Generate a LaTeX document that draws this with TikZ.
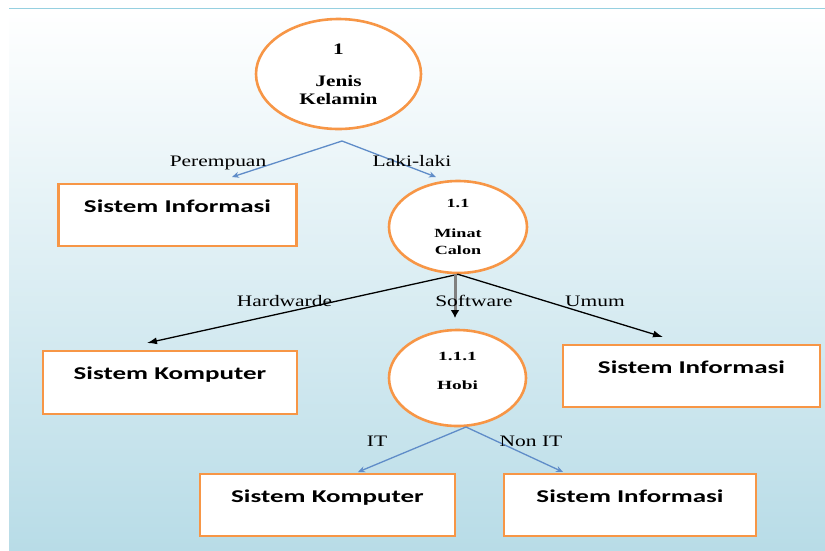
\documentclass[tikz,border=0pt]{standalone}
\usepackage{fontspec}
\setmainfont{Liberation Serif}
\newfontfamily\carl{Carlito}
\usepackage{graphicx}
\usetikzlibrary{shapes.geometric,arrows.meta}
\definecolor{orng}{RGB}{247,150,70}
\definecolor{bgblue}{RGB}{184,220,231}
\definecolor{lineblue}{RGB}{95,140,200}
\definecolor{topline}{RGB}{150,208,224}
\newcommand\hs[2]{\scalebox{#1}[1]{#2}}
\begin{document}
\begin{tikzpicture}[x=1pt,y=-1pt,
 circ/.style={ellipse, draw=orng, line width=2.6pt, fill=white, inner sep=0pt, align=center},
 boxnode/.style={rectangle, draw=orng, line width=2.8pt, fill=white, inner sep=0pt, font=\carl\bfseries\fontsize{18}{20}\selectfont},
 lbl/.style={anchor=base, inner sep=0pt, font=\fontsize{16}{18}\selectfont},
 bluearr/.style={draw=lineblue, line width=1.3pt, -{Stealth[length=7pt,width=6pt]}},
 blackarr/.style={draw=black, line width=1.3pt, -{Latex[length=10pt,width=7pt]}},
 grayarr/.style={draw=gray, line width=3pt, -{Latex[length=8pt,width=9pt,color=black]}}
]
\useasboundingbox (0,0) rectangle (825,550);
\shade[top color=white, bottom color=bgblue] (9,10) rectangle (825,550);
\draw[topline, line width=1.6pt] (9,8.5) -- (825,8.5);

% nodes
\node[circ, minimum width=165pt, minimum height=110pt, font=\bfseries\fontsize{16}{18}\selectfont] (c1) at (338.5,74)
  {\hs{1.33}{1}\\[14pt]\hs{1.33}{Jenis}\\\hs{1.33}{Kelamin}};
\node[boxnode, minimum width=238pt, minimum height=62pt] (b1) at (177.5,215)
  {\raisebox{3pt}[0pt][0pt]{\hs{1.5}{Sistem Informasi}}};
\node[circ, minimum width=138pt, minimum height=92pt, font=\bfseries\fontsize{12.5}{17}\selectfont] (c11) at (458,227)
  {\hs{1.45}{1.1}\\[13pt]\hs{1.45}{Minat}\\\hs{1.45}{Calon}};
\node[boxnode, minimum width=254pt, minimum height=63pt] (b2) at (170,382.5)
  {\raisebox{3pt}[0pt][0pt]{\hs{1.5}{Sistem Komputer}}};
\node[circ, minimum width=137pt, minimum height=96pt, font=\bfseries\fontsize{12.5}{17}\selectfont] (c111) at (457.5,378)
  {\hs{1.55}{1.1.1}\\[12pt]\hs{1.55}{Hobi}\rule[-15pt]{0pt}{15pt}};
\node[boxnode, minimum width=257pt, minimum height=62pt] (b3) at (691.5,376)
  {\raisebox{3pt}[0pt][0pt]{\hs{1.5}{Sistem Informasi}}};
\node[boxnode, minimum width=255pt, minimum height=62pt] (b4) at (327.5,505)
  {\raisebox{3pt}[0pt][0pt]{\hs{1.5}{Sistem Komputer}}};
\node[boxnode, minimum width=252pt, minimum height=62pt] (b5) at (630,505)
  {\raisebox{3pt}[0pt][0pt]{\hs{1.5}{Sistem Informasi}}};

% connector ends
\coordinate (o1) at (342,141);
\coordinate (t1) at (232,177);
\coordinate (t2) at (436,177);
\coordinate (t3) at (147,343);
\coordinate (t4) at (455,318);
\coordinate (t5) at (663,337);
\coordinate (o2) at (466,427);
\coordinate (t6) at (358,472);
\coordinate (t7) at (563,472);

\draw[bluearr] (o1) -- (t1);
\draw[bluearr] (o1) -- (t2);
\draw[blackarr] (c11.south) -- (t3);
\draw[grayarr] (c11.south -| t4) -- (t4);
\draw[blackarr] (c11.south) -- (t5);
\draw[bluearr] (o2) -- (t6);
\draw[bluearr] (o2) -- (t7);

% labels
\node[lbl] (lper) at (218,166) {\hs{1.34}{Perempuan}};
\node[lbl] (llaki) at (412,166) {\hs{1.34}{Laki-laki}};
\node[lbl] (lhw) at (284.5,306) {\hs{1.34}{Hardwarde}};
\node[lbl] (lsw) at (474,306) {\hs{1.34}{Software}};
\node[lbl] (lum) at (595,306) {\hs{1.34}{Umum}};
\node[lbl] (lit) at (377,446.5) {\hs{1.34}{IT}};
\node[lbl] (lnit) at (531,446.5) {\hs{1.34}{Non IT}};
\end{tikzpicture}
\end{document}
